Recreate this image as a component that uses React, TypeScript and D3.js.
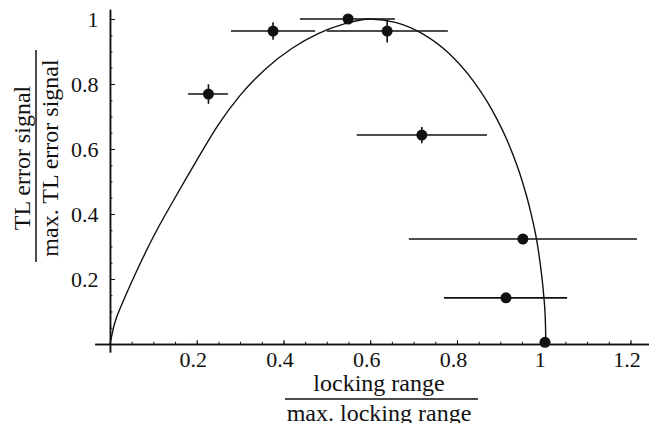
import { useRef, useEffect } from "react";
import * as d3 from "d3";

// measured points (normalized locking range, normalized TL error signal)
const pointX = [0.227, 0.376, 0.549, 0.639, 0.719, 0.952, 0.913, 1.003];
const pointY = [0.769, 0.963, 1.0, 0.963, 0.643, 0.323, 0.142, 0.005];
const xLow = [0.18, 0.279, 0.438, 0.5, 0.569, 0.689, 0.77, 1.003];
const xHigh = [0.272, 0.473, 0.657, 0.779, 0.869, 1.215, 1.054, 1.003];
const yErr = [0.03, 0.027, 0, 0.035, 0.025, 0, 0, 0];

// theory curve
const curveX = [0, 0.01, 0.03, 0.06, 0.1, 0.15, 0.2, 0.25, 0.3, 0.36, 0.42, 0.48, 0.54, 0.6, 0.66, 0.72, 0.78, 0.84, 0.88, 0.92, 0.95, 0.97, 0.985, 0.995, 1.0, 1.004, 1.005];
const curveY = [0, 0.06, 0.13, 0.22, 0.33, 0.45, 0.565, 0.675, 0.765, 0.848, 0.91, 0.955, 0.985, 1.0, 0.989, 0.955, 0.896, 0.805, 0.722, 0.613, 0.503, 0.406, 0.31, 0.215, 0.15, 0.065, 0];

const xMajor = [0.2, 0.4, 0.6, 0.8, 1, 1.2];
const yMajor = [0.2, 0.4, 0.6, 0.8, 1];
const xMinor = d3.range(1, 25).map((i) => i * 0.05);
const yMinor = d3.range(1, 21).map((i) => i * 0.05);

const W = 649;
const H = 423;
const FONT = "'Liberation Serif', 'Times New Roman', serif";
const INK = "#111";

const App: React.FC = () => {
  const axRef = useRef<SVGGElement | null>(null);

  const x = d3.scaleLinear().domain([-0.035, 1.246]).range([94.8, 650.4]);
  const y = d3.scaleLinear().domain([-0.025, 1.03]).range([352.1, 9.25]);

  useEffect(() => {
    if (!axRef.current) return;
    const g = d3.select(axRef.current);
    g.selectAll("*").remove();

    const fmt = (d: d3.NumberValue) => String(+d);

    // minor ticks
    g.append("g")
      .attr("transform", `translate(0,${y(0)})`)
      .call(d3.axisBottom(x).tickValues(xMinor).tickSize(-2.2).tickFormat(() => "").tickSizeOuter(0));
    g.append("g")
      .attr("transform", `translate(${x(0)},0)`)
      .call(d3.axisLeft(y).tickValues(yMinor).tickSize(-2.5).tickFormat(() => "").tickSizeOuter(0));

    // x axis
    const gx = g
      .append("g")
      .attr("transform", `translate(0,${y(0)})`)
      .call(d3.axisBottom(x).tickValues(xMajor).tickSize(-4).tickPadding(7.5).tickSizeOuter(0).tickFormat(fmt));
    gx.selectAll("text").attr("dx", -4);

    // y axis
    g.append("g")
      .attr("transform", `translate(${x(0)},0)`)
      .call(d3.axisLeft(y).tickValues(yMajor).tickSize(-5).tickPadding(11.5).tickSizeOuter(0).tickFormat(fmt));

    g.selectAll(".domain").attr("stroke", INK).attr("stroke-width", 1.5);
    g.selectAll(".tick line").attr("stroke", INK).attr("stroke-width", 1);
    g.selectAll("text")
      .attr("font-family", FONT)
      .attr("font-size", 22)
      .attr("fill", INK);
  }, []);

  const line = d3
    .line<number>()
    .x((_, i) => x(curveX[i]))
    .y((_, i) => y(curveY[i]))
    .curve(d3.curveMonotoneX);

  return (
    <svg
      width={W}
      height={H}
      style={{ position: "absolute", left: 0, top: 0, background: "#fff" }}
    >
      <g ref={axRef} />
      <path d={line(curveX) ?? ""} fill="none" stroke={INK} strokeWidth={1.4} />
      {pointX.map((px, i) => (
        <g key={i} stroke={INK} strokeWidth={1.6}>
          {xHigh[i] > xLow[i] && (
            <line x1={x(xLow[i])} x2={x(xHigh[i])} y1={y(pointY[i])} y2={y(pointY[i])} />
          )}
          {yErr[i] > 0 && (
            <line x1={x(px)} x2={x(px)} y1={y(pointY[i] - yErr[i])} y2={y(pointY[i] + yErr[i])} />
          )}
          <circle cx={x(px)} cy={y(pointY[i])} r={5.5} fill={INK} stroke="none" />
        </g>
      ))}

      {/* x axis title as a fraction */}
      <g fontFamily={FONT} fontSize={24} fill={INK} textAnchor="middle">
        <text x={379} y={391}>locking range</text>
        <line x1={285} x2={478} y1={399} y2={399} stroke={INK} strokeWidth={1.5} />
        <text x={379} y={421}>max. locking range</text>
      </g>

      {/* y axis title as a fraction */}
      <g fontFamily={FONT} fontSize={24} fill={INK} textAnchor="middle">
        <text transform="translate(30,158) rotate(-90)">TL error signal</text>
        <line x1={36} x2={36} y1={50} y2={262} stroke={INK} strokeWidth={1.5} />
        <text transform="translate(58,158) rotate(-90)">max. TL error signal</text>
      </g>
    </svg>
  );
};

export default App;
